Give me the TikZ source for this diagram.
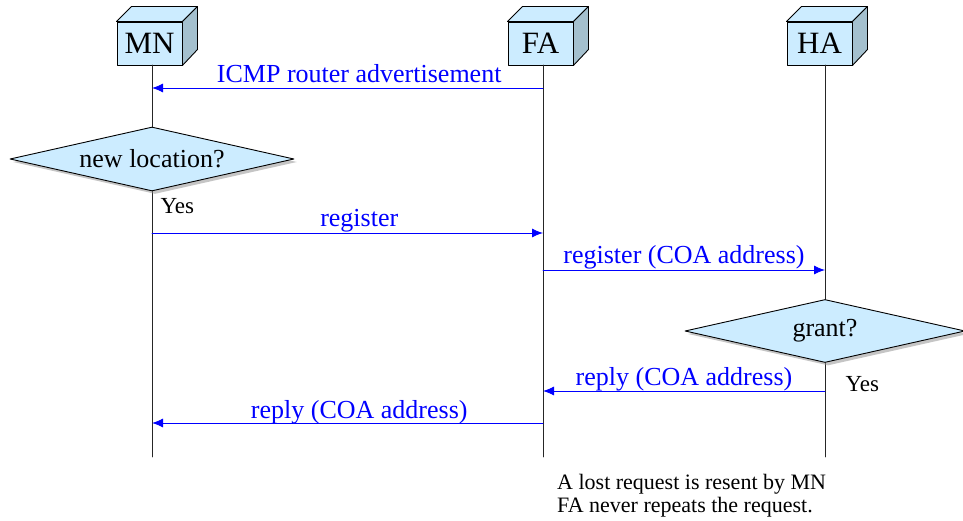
\documentclass[tikz,border=0pt]{standalone}
\usepackage{fontspec}
\setmainfont{Liberation Serif}
\usetikzlibrary{arrows.meta,shapes.geometric,shadows,calc}
\definecolor{boxfront}{RGB}{204,236,255}
\definecolor{boxside}{RGB}{164,192,206}
\tikzset{
  station/.style={draw, fill=boxfront, line width=0.9pt, minimum width=65pt, minimum height=43pt,
    inner sep=0pt, font=\fontsize{31}{34}\selectfont},
  decision/.style={draw, diamond, fill=boxfront, line width=0.9pt, inner sep=0pt, aspect=4.4,
    font=\fontsize{26}{30}\selectfont,
    drop shadow={shadow xshift=3pt, shadow yshift=-3pt, fill=black!45}},
  msg/.style={blue, line width=0.9pt, -{Latex[length=11pt,width=9pt]}},
  msglabel/.style={blue, anchor=base, font=\fontsize{26}{30}\selectfont},
  note/.style={font=\fontsize{23}{25}\selectfont},
}
\begin{document}
\begin{tikzpicture}[x=1pt, y=-1pt, line cap=round, line join=round]
  \useasboundingbox (0,0) rectangle (963,521);
  % the three stations, as little boxes
  \foreach \n/\x/\t in {mn/149.5/MN, fa/540.5/FA, ha/819.5/HA} {
    \node[station] (\n) at (\x,43.5) {\t};
    \filldraw[fill=boxfront, line width=0.9pt] (\n.north west) -- ++(15,-15)
      -- ($(\n.north east)+(15,-15)$) -- (\n.north east) -- cycle;
    \filldraw[fill=boxside, line width=0.9pt] (\n.north east) -- ++(15,-15) -- ++(0,43)
      -- (\n.south east) -- cycle;
  }
  % lifelines
  \coordinate (mnl) at (152,65);
  \coordinate (fal) at (543,65);
  \coordinate (hal) at (825,65);
  \foreach \l in {mnl,fal,hal} { \draw[line width=0.9pt, black!85] (\l) -- (\l |- 0,457); }
  % the two questions
  \node[decision, minimum width=284pt, minimum height=64pt] (loc) at (152,159) {new location?};
  \node[decision, minimum width=280pt, minimum height=63pt] (grant) at (825,331) {grant?};
  \node[note, anchor=base west] (yes1) at (157,214) {Yes};
  \node[note, anchor=base west] (yes2) at (842,391) {Yes};
  % messages
  \draw[msg] (fal |- 0,88) -- (mnl |- 0,88)
    node[msglabel, pos=0.47, yshift=5pt] (icmp) {ICMP router advertisement};
  \draw[msg] (mnl |- 0,233) -- (fal |- 0,233)
    node[msglabel, pos=0.53, yshift=6pt] (reg) {register};
  \draw[msg] (fal |- 0,270) -- (hal |- 0,270)
    node[msglabel, midway, yshift=6pt] (regcoa) {register (COA address)};
  \draw[msg] (hal |- 0,391) -- (fal |- 0,391)
    node[msglabel, midway, yshift=6pt] (replyha) {reply (COA address)};
  \draw[msg] (fal |- 0,423) -- (mnl |- 0,423)
    node[msglabel, pos=0.47, yshift=5pt] (replyfa) {reply (COA address)};
  % remark below
  \node[anchor=base west, align=left, inner sep=0pt, font=\fontsize{22}{23}\selectfont] (remark)
    at (557,512) {A lost request is resent by MN\\FA never repeats the request.};
\end{tikzpicture}
\end{document}
